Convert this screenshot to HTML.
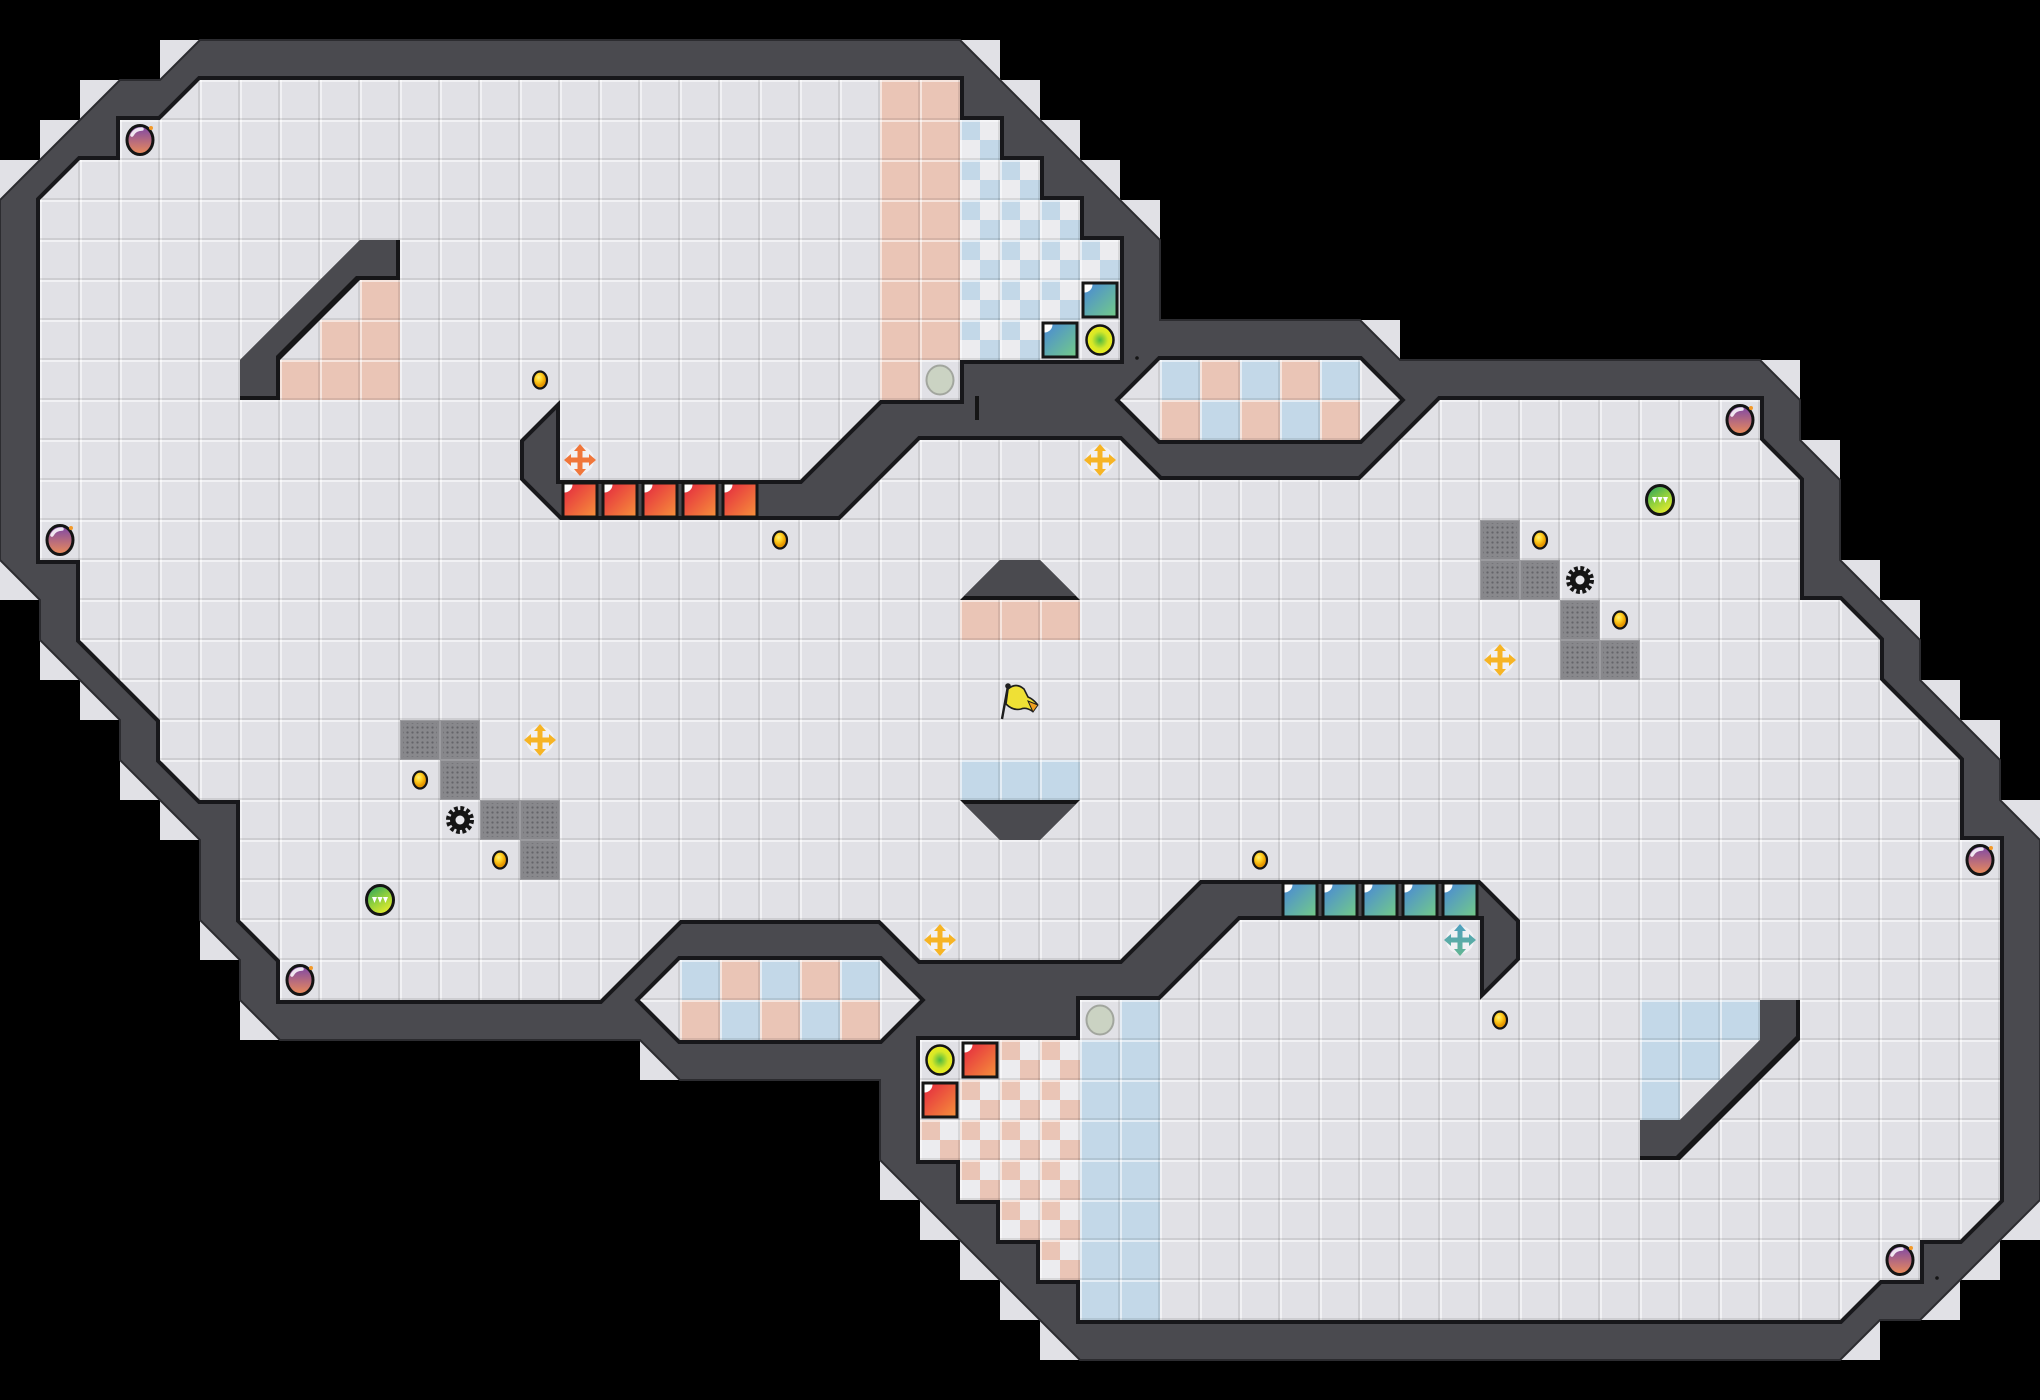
<!DOCTYPE html>
<html><head><meta charset="utf-8">
<style>html,body{margin:0;padding:0;background:#000;}svg{display:block}</style>
</head><body>
<svg width="2040" height="1400" viewBox="0 0 2040 1400" xmlns="http://www.w3.org/2000/svg">
<defs>
<pattern id="g" width="40" height="40" patternUnits="userSpaceOnUse">
<rect x="0" y="0" width="40" height="2" fill="#fff" fill-opacity=".55"/>
<rect x="0" y="0" width="2" height="40" fill="#fff" fill-opacity=".55"/>
<rect x="0" y="38" width="40" height="2" fill="#000" fill-opacity=".09"/>
<rect x="38" y="0" width="2" height="40" fill="#000" fill-opacity=".09"/>
</pattern>
<pattern id="cbB" width="40" height="40" patternUnits="userSpaceOnUse"><rect width="40" height="40" fill="#ececef"/><rect width="20" height="20" fill="#c3d8e8"/><rect x="20" y="20" width="20" height="20" fill="#c3d8e8"/></pattern>
<pattern id="cbO" width="40" height="40" patternUnits="userSpaceOnUse"><rect width="40" height="40" fill="#ececef"/><rect width="20" height="20" fill="#eac5b6"/><rect x="20" y="20" width="20" height="20" fill="#eac5b6"/></pattern>
<pattern id="dots" width="5" height="5" patternUnits="userSpaceOnUse"><circle cx="2.5" cy="2.5" r="1.15" fill="#646469"/></pattern>
<linearGradient id="gRed" x1="0" y1="0" x2="1" y2="1"><stop offset="0" stop-color="#e42a3f"/><stop offset="1" stop-color="#f68e3b"/></linearGradient>
<linearGradient id="gTeal" x1="0" y1="0" x2="1" y2="1"><stop offset="0" stop-color="#4a8ad5"/><stop offset="1" stop-color="#72c98a"/></linearGradient>
<linearGradient id="gPur" x1="0" y1="0" x2="0" y2="1"><stop offset="0" stop-color="#7a46a9"/><stop offset="1" stop-color="#ec8c58"/></linearGradient>
<linearGradient id="gGrn" x1="0.2" y1="0" x2="0.8" y2="1"><stop offset="0" stop-color="#2ea55f"/><stop offset=".45" stop-color="#8cce3e"/><stop offset="1" stop-color="#f2f02a"/></linearGradient>
<radialGradient id="gYG"><stop offset="0" stop-color="#4cb842"/><stop offset=".6" stop-color="#d6e828"/><stop offset="1" stop-color="#efec1e"/></radialGradient>
<radialGradient id="gCoin" cx=".4" cy=".35"><stop offset="0" stop-color="#fff07a"/><stop offset=".5" stop-color="#ffcf1f"/><stop offset="1" stop-color="#e79900"/></radialGradient>
<linearGradient id="gTC" x1="0" y1="0" x2="0" y2="1"><stop offset="0" stop-color="#4f9fc0"/><stop offset="1" stop-color="#62b592"/></linearGradient>

<g id="rb"><rect x="1.5" y="1.5" width="37" height="37" fill="#161616"/><rect x="4.5" y="4.5" width="31" height="31" fill="url(#gRed)"/><path d="M4.5,4.5h8a8,8 0 0 1 -8,8z" fill="#fff"/></g>
<g id="tb"><rect x="1.5" y="1.5" width="37" height="37" fill="#161616"/><rect x="4.5" y="4.5" width="31" height="31" fill="url(#gTeal)"/><path d="M4.5,4.5h8a8,8 0 0 1 -8,8z" fill="#fff"/></g>
<g id="gr"><rect width="40" height="40" fill="#88888c"/><rect x="0.5" y="0.5" width="39" height="39" fill="none" stroke="#9b9b9f" stroke-width="1"/><rect x="3" y="3" width="34" height="34" fill="url(#dots)"/></g>
<g id="pb"><ellipse rx="13" ry="14.5" fill="url(#gPur)" stroke="#141414" stroke-width="3"/><path d="M-8,-5 Q-5,-11 2,-11" stroke="#fff" stroke-width="3.5" fill="none" stroke-linecap="round" opacity=".85"/><circle cx="11" cy="-12" r="2" fill="#f39a2a"/></g>
<g id="coin"><ellipse rx="7" ry="8.5" fill="url(#gCoin)" stroke="#151515" stroke-width="2.2"/></g>
<g id="gear"><circle r="11.5" fill="none" stroke="#151515" stroke-width="5" stroke-dasharray="3.6 2.42"/><circle r="10" fill="#151515"/><circle r="4.5" fill="#e8e8ec"/></g>
<g id="gb"><ellipse rx="13.5" ry="14.5" fill="url(#gGrn)" stroke="#141414" stroke-width="3"/><path d="M-8,-3h5l-2.5,6z M-2.5,-3h5l-2.5,6z M3,-3h5l-2.5,6z" fill="#fff"/></g>
<g id="yb"><ellipse rx="13.5" ry="14.5" fill="url(#gYG)" stroke="#141414" stroke-width="2.5"/></g>
<g id="gyb"><ellipse rx="13.5" ry="14.5" fill="#cbd3c3" stroke="#a2a69e" stroke-width="2"/></g>
<g id="cr"><circle r="14" fill="#f6f6f8" opacity=".75"/><path d="M0,-16L6,-9H2.5V-2.5H9V-6L16,0L9,6V2.5H2.5V9H6L0,16L-6,9H-2.5V2.5H-9V6L-16,0L-9,-6V-2.5H-2.5V-9H-6Z"/></g>

<clipPath id="ci1"><polygon points="360,240 400,240 400,280 360,280 280,360 280,400 240,400 240,360"/></clipPath>
<clipPath id="ci2"><polygon points="1680,1160 1640,1160 1640,1120 1680,1120 1760,1040 1760,1000 1800,1000 1800,1040"/></clipPath>
<clipPath id="ct1"><polygon points="1000,560 1040,560 1080,600 960,600"/></clipPath>
<clipPath id="ct2"><polygon points="960,800 1080,800 1040,840 1000,840"/></clipPath>
</defs>

<rect width="2040" height="1400" fill="#000"/>

<g id="outs" fill="#e1e1e6">
<rect x="0" y="160" width="40" height="40"/><rect x="40" y="120" width="40" height="40"/><rect x="80" y="80" width="40" height="40"/><rect x="160" y="40" width="40" height="40"/>
<rect x="960" y="40" width="40" height="40"/><rect x="1000" y="80" width="40" height="40"/><rect x="1040" y="120" width="40" height="40"/><rect x="1080" y="160" width="40" height="40"/><rect x="1120" y="200" width="40" height="40"/>
<rect x="1360" y="320" width="40" height="40"/><rect x="1760" y="360" width="40" height="40"/><rect x="1800" y="440" width="40" height="40"/>
<rect x="1840" y="560" width="40" height="40"/><rect x="1880" y="600" width="40" height="40"/><rect x="1920" y="680" width="40" height="40"/><rect x="1960" y="720" width="40" height="40"/><rect x="2000" y="800" width="40" height="40"/>
<rect x="2000" y="1200" width="40" height="40"/><rect x="1960" y="1240" width="40" height="40"/><rect x="1920" y="1280" width="40" height="40"/><rect x="1840" y="1320" width="40" height="40"/>
<rect x="1040" y="1320" width="40" height="40"/><rect x="1000" y="1280" width="40" height="40"/><rect x="960" y="1240" width="40" height="40"/><rect x="920" y="1200" width="40" height="40"/><rect x="880" y="1160" width="40" height="40"/>
<rect x="640" y="1040" width="40" height="40"/><rect x="240" y="1000" width="40" height="40"/><rect x="200" y="920" width="40" height="40"/>
<rect x="160" y="800" width="40" height="40"/><rect x="120" y="760" width="40" height="40"/><rect x="80" y="680" width="40" height="40"/><rect x="40" y="640" width="40" height="40"/><rect x="0" y="560" width="40" height="40"/>
</g>
<use href="#outs" fill="url(#g)"/>

<polygon fill="#4a4a4f" stroke="#2c2c30" stroke-width="2" points="0,200 40,160 80,120 120,80 160,80 200,40 960,40 1160,240 1160,320 1360,320 1400,360 1760,360 1800,400 1800,440 1840,480 1840,560 1880,600 1920,640 1920,680 1960,720 2000,760 2000,800 2040,840 2040,1200 2000,1240 1960,1280 1920,1320 1880,1320 1840,1360 1080,1360 880,1160 880,1080 680,1080 640,1040 280,1040 240,1000 240,960 200,920 200,840 160,800 120,760 120,720 80,680 40,640 40,600 0,560"/>

<g id="floors">
<polygon id="fl" points="40,200 80,160 120,160 120,120 160,120 200,80 960,80 960,120 1000,120 1000,160 1040,160 1040,200 1080,200 1080,240 1120,240 1120,360 960,360 960,400 880,400 800,480 760,480 560,480 560,400 520,440 520,480 560,520 840,520 920,440 1120,440 1160,480 1360,480 1440,400 1760,400 1760,440 1800,480 1800,600 1840,600 1880,640 1880,680 1960,760 1960,840 2000,840 2000,1200 1960,1240 1920,1240 1920,1280 1880,1280 1840,1320 1080,1320 1080,1280 1040,1280 1040,1240 1000,1240 1000,1200 960,1200 960,1160 920,1160 920,1040 1080,1040 1080,1000 1160,1000 1240,920 1280,920 1480,920 1480,1000 1520,960 1520,920 1480,880 1200,880 1120,960 920,960 880,920 680,920 600,1000 280,1000 280,960 240,920 240,800 200,800 160,760 160,720 80,640 80,560 40,560"/>
<polygon points="1120,400 1160,360 1360,360 1400,400 1360,440 1160,440"/>
<polygon points="920,1000 880,1040 680,1040 640,1000 680,960 880,960"/>
</g>
<use href="#floors" fill="none" stroke="#18181b" stroke-width="8" stroke-linejoin="miter"/>
<use href="#floors" fill="#e1e1e6"/>

<g fill="#eac5b6">
<rect x="880" y="80" width="40" height="320"/><rect x="920" y="80" width="40" height="280"/>
<rect x="360" y="280" width="40" height="40"/><rect x="320" y="320" width="80" height="40"/><rect x="280" y="360" width="120" height="40"/>
<rect x="960" y="600" width="120" height="40"/>
<rect x="1200" y="360" width="40" height="40"/><rect x="1280" y="360" width="40" height="40"/>
<rect x="1160" y="400" width="40" height="40"/><rect x="1240" y="400" width="40" height="40"/><rect x="1320" y="400" width="40" height="40"/>
<rect x="720" y="960" width="40" height="40"/><rect x="800" y="960" width="40" height="40"/>
<rect x="680" y="1000" width="40" height="40"/><rect x="760" y="1000" width="40" height="40"/><rect x="840" y="1000" width="40" height="40"/>
</g>
<g fill="#c3d8e8">
<rect x="1120" y="1000" width="40" height="320"/><rect x="1080" y="1040" width="40" height="280"/>
<rect x="1640" y="1080" width="40" height="40"/><rect x="1640" y="1040" width="80" height="40"/><rect x="1640" y="1000" width="120" height="40"/>
<rect x="960" y="760" width="120" height="40"/>
<rect x="1160" y="360" width="40" height="40"/><rect x="1240" y="360" width="40" height="40"/><rect x="1320" y="360" width="40" height="40"/>
<rect x="1200" y="400" width="40" height="40"/><rect x="1280" y="400" width="40" height="40"/>
<rect x="680" y="960" width="40" height="40"/><rect x="760" y="960" width="40" height="40"/><rect x="840" y="960" width="40" height="40"/>
<rect x="720" y="1000" width="40" height="40"/><rect x="800" y="1000" width="40" height="40"/>
</g>
<g fill="url(#cbB)">
<rect x="960" y="120" width="40" height="40"/><rect x="960" y="160" width="80" height="40"/><rect x="960" y="200" width="120" height="40"/>
<rect x="960" y="240" width="160" height="40"/><rect x="960" y="280" width="120" height="40"/><rect x="960" y="320" width="80" height="40"/>
</g>
<g fill="url(#cbO)">
<rect x="1040" y="1240" width="40" height="40"/><rect x="1000" y="1200" width="80" height="40"/><rect x="960" y="1160" width="120" height="40"/>
<rect x="920" y="1120" width="160" height="40"/><rect x="960" y="1080" width="120" height="40"/><rect x="1000" y="1040" width="80" height="40"/>
</g>
<use href="#floors" fill="url(#g)"/>

<g clip-path="url(#ci1)"><rect x="230" y="230" width="180" height="180" fill="#161618"/><polygon transform="translate(-4,-4)" fill="#4a4a4f" points="360,240 400,240 400,280 360,280 280,360 280,400 240,400 240,360"/></g>
<g clip-path="url(#ci2)"><rect x="1630" y="990" width="180" height="180" fill="#161618"/><polygon transform="translate(-4,-4)" fill="#4a4a4f" points="1680,1160 1640,1160 1640,1120 1680,1120 1760,1040 1760,1000 1800,1000 1800,1040"/></g>
<g clip-path="url(#ct1)"><rect x="950" y="550" width="140" height="60" fill="#161618"/><polygon transform="translate(0,-4)" fill="#4a4a4f" points="1000,560 1040,560 1080,600 960,600"/></g>
<g clip-path="url(#ct2)"><rect x="950" y="790" width="140" height="60" fill="#161618"/><polygon transform="translate(0,4)" fill="#4a4a4f" points="960,800 1080,800 1040,840 1000,840"/></g>

<rect x="975" y="396" width="4" height="24" fill="#151515"/>
<circle cx="1137" cy="358" r="1.8" fill="#151515"/>
<circle cx="1937" cy="1278" r="1.8" fill="#151515"/>

<use href="#rb" x="560" y="480"/><use href="#rb" x="600" y="480"/><use href="#rb" x="640" y="480"/><use href="#rb" x="680" y="480"/><use href="#rb" x="720" y="480"/>
<use href="#rb" x="960" y="1040"/><use href="#rb" x="920" y="1080"/>
<use href="#tb" x="1080" y="280"/><use href="#tb" x="1040" y="320"/>
<use href="#tb" x="1280" y="880"/><use href="#tb" x="1320" y="880"/><use href="#tb" x="1360" y="880"/><use href="#tb" x="1400" y="880"/><use href="#tb" x="1440" y="880"/>

<use href="#gr" x="400" y="720"/><use href="#gr" x="440" y="720"/><use href="#gr" x="440" y="760"/><use href="#gr" x="480" y="800"/><use href="#gr" x="520" y="800"/><use href="#gr" x="520" y="840"/>
<use href="#gr" x="1480" y="520"/><use href="#gr" x="1480" y="560"/><use href="#gr" x="1520" y="560"/><use href="#gr" x="1560" y="600"/><use href="#gr" x="1560" y="640"/><use href="#gr" x="1600" y="640"/>

<use href="#pb" x="140" y="140"/><use href="#pb" x="60" y="540"/><use href="#pb" x="300" y="980"/>
<use href="#pb" x="1740" y="420"/><use href="#pb" x="1980" y="860"/><use href="#pb" x="1900" y="1260"/>
<use href="#coin" x="540" y="380"/><use href="#coin" x="780" y="540"/><use href="#coin" x="420" y="780"/><use href="#coin" x="500" y="860"/>
<use href="#coin" x="1260" y="860"/><use href="#coin" x="1500" y="1020"/><use href="#coin" x="1540" y="540"/><use href="#coin" x="1620" y="620"/>
<use href="#gear" x="460" y="820"/><use href="#gear" x="1580" y="580"/>
<use href="#gb" x="380" y="900"/><use href="#gb" x="1660" y="500"/>
<use href="#yb" x="1100" y="340"/><use href="#yb" x="940" y="1060"/>
<use href="#gyb" x="940" y="380"/><use href="#gyb" x="1100" y="1020"/>
<use href="#cr" x="580" y="460" fill="#f0763a"/>
<use href="#cr" x="1100" y="460" fill="#f6b424"/>
<use href="#cr" x="540" y="740" fill="#f6b424"/>
<use href="#cr" x="940" y="940" fill="#f6b424"/>
<use href="#cr" x="1500" y="660" fill="#f6b424"/>
<use href="#cr" x="1460" y="940" fill="url(#gTC)"/>

<g>
<path d="M1008,689 Q1016,682 1024,689 L1028,697 Q1033,699 1037,704 L1032,711 Q1026,707 1021,709 Q1013,711 1006,704 Z" fill="#efe035" stroke="#1e1e1e" stroke-width="1.6"/>
<path d="M1028,701 L1038,705 L1033,712 Z" fill="#f0a020" stroke="#1e1e1e" stroke-width="1"/>
<line x1="1002" y1="719" x2="1008" y2="686" stroke="#1e1e1e" stroke-width="2.4"/>
<circle cx="1008" cy="686" r="2.8" fill="#1e1e1e"/>
</g>
</svg>
</body></html>
